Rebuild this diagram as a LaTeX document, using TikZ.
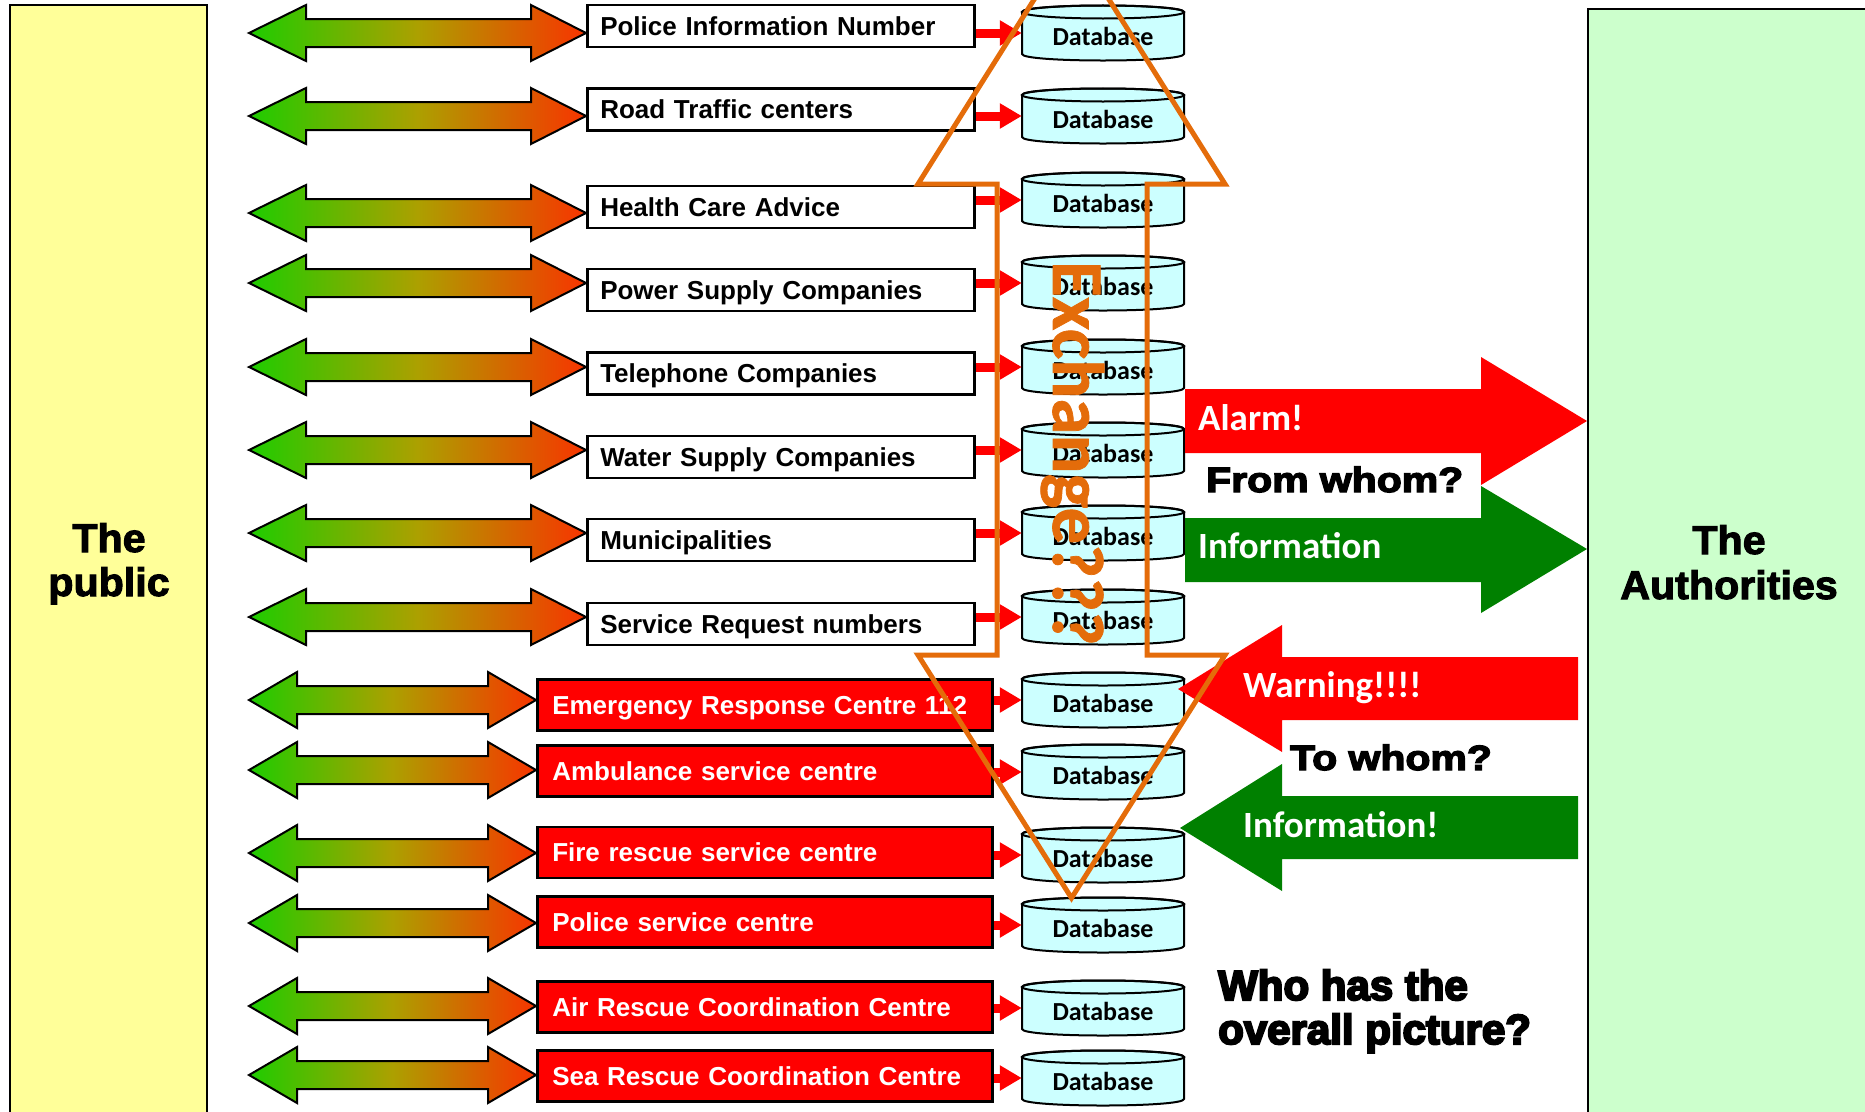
\documentclass[tikz,border=0pt]{standalone}
\usepackage{fontspec}
\setmainfont{Liberation Sans}
\newfontfamily\calfont{Carlito}
\newfontfamily\heavyfont{Liberation Sans}[FakeBold=4,FakeStretch=1.17]
\newfontfamily\pubfont{Liberation Sans}[FakeBold=2.5,FakeStretch=1.03]
\newfontfamily\condfont{Liberation Sans}[FakeBold=5]
\newfontfamily\exfont{Carlito}[FakeBold=1]
\usetikzlibrary{calc,arrows.meta}
\definecolor{pubyellow}{HTML}{FFFF99}
\definecolor{authgreen}{HTML}{CCFFCC}
\definecolor{dbcyan}{HTML}{CCFFFF}
\definecolor{exorange}{HTML}{E46C0A}
\definecolor{infogreen}{HTML}{008000}
\definecolor{gL}{RGB}{30,204,0}
\definecolor{gM}{RGB}{172,160,0}
\definecolor{gR}{RGB}{248,52,0}
\tikzset{
  pubbox/.style={draw=black, line width=2pt, fill=pubyellow},
  authbox/.style={draw=black, line width=2pt, fill=authgreen},
  sidetext/.style={font=\pubfont\bfseries\fontsize{40}{48}\selectfont, anchor=base, inner sep=0pt},
  wbox/.style={draw=black, line width=2.5pt, fill=white, minimum height=42pt, text width=361pt,
    inner xsep=13pt, inner ysep=0pt, align=left, font=\bfseries\fontsize{26}{30}\selectfont,
    text height=21pt, text depth=3pt, anchor=west},
  rbox/.style={wbox, fill=red, text=white, minimum height=51pt, text width=425pt, inner xsep=15pt},
  dbnode/.style={minimum width=162pt, minimum height=55pt, inner sep=0pt,
    font=\calfont\bfseries\fontsize{26}{30}\selectfont, text height=30pt, text depth=6pt},
  dbbody/.style={draw=black, line width=2pt, fill=dbcyan},
  dblstyle/.style={draw=black, line width=2pt, line join=miter, left color=gL, right color=gR, middle color=gM},
  conn/.style={red, line width=9pt, -{Triangle[length=22pt,width=24pt]}},
  bigwhite/.style={font=\calfont\bfseries\fontsize{37}{40}\selectfont, text=white, anchor=base west, inner sep=0pt},
  whom/.style={font=\heavyfont\bfseries\fontsize{35}{40}\selectfont, anchor=base west, inner sep=0pt},
  whostyle/.style={font=\condfont\bfseries\fontsize{42}{50}\selectfont, anchor=base west, inner sep=0pt},
  exline/.style={draw=exorange, line width=5pt, line join=miter},
  extext/.style={font=\exfont\bfseries\fontsize{73}{80}\selectfont, text=exorange, rotate=-90, anchor=base west, inner sep=0pt}
}
\newcommand\dblarrow[4]{%
  \path[dblstyle] (#1) -- ($(#1)+(#3,-28)$) -- ($(#1)+(#3,-14)$) -- ($(#2)+(-#4,-14)$) -- ($(#2)+(-#4,-28)$)
    -- (#2) -- ($(#2)+(-#4,28)$) -- ($(#2)+(-#4,14)$) -- ($(#1)+(#3,14)$) -- ($(#1)+(#3,28)$) -- cycle;}
\newcommand\dbcyl[2]{%
  \coordinate (#1c) at (1103,#2);
  \path[dbbody] ($(#1c)+(-81,-21)$) -- ($(#1c)+(-81,21)$)
    .. controls ($(#1c)+(-81,29.67)$) and ($(#1c)+(81,29.67)$) .. ($(#1c)+(81,21)$)
    -- ($(#1c)+(81,-21)$)
    .. controls ($(#1c)+(81,-29.67)$) and ($(#1c)+(-81,-29.67)$) .. cycle;
  \draw[line width=2pt] ($(#1c)+(0,-21)$) ellipse [x radius=81, y radius=6.5];
  \node[dbnode] (#1) at (#1c) {Database};}
\begin{document}
\begin{tikzpicture}[x=1pt,y=-1pt]
\useasboundingbox (0,0) rectangle (1865,1111);
\clip (0,0) rectangle (1865,1111);
% side panels
\path[pubbox] (10,5) rectangle (207,1125);
\path[authbox] (1588,9) rectangle (1880,1125);
\node[sidetext] (pub1) at (109,552) {The};
\node[sidetext] (pub2) at (109,596) {public};
\node[sidetext] (auth1) at (1729,554) {The};
\node[sidetext] (auth2) at (1729,599) {Authorities};
% white boxes
\node[wbox] (w1) at (586,26) {Police Information Number};
\node[wbox] (w2) at (586,109.5) {Road Traffic centers};
\node[wbox] (w3) at (586,207) {Health Care Advice};
\node[wbox] (w4) at (586,290) {Power Supply Companies};
\node[wbox] (w5) at (586,373.5) {Telephone Companies};
\node[wbox] (w6) at (586,457) {Water Supply Companies};
\node[wbox] (w7) at (586,540) {Municipalities};
\node[wbox] (w8) at (586,624) {Service Request numbers};
% red boxes
\node[rbox] (r1) at (536,705) {Emergency Response Centre 112};
\node[rbox] (r2) at (536,771) {Ambulance service centre};
\node[rbox] (r3) at (536,852.5) {Fire rescue service centre};
\node[rbox] (r4) at (536,922) {Police service centre};
\node[rbox] (r5) at (536,1007) {Air Rescue Coordination Centre};
\node[rbox] (r6) at (536,1076) {Sea Rescue Coordination Centre};
% double arrows
\foreach \n/\yy/\b in {1/33/w1,2/116/w2,3/213/w3,4/283/w4,5/367/w5,6/450/w6,7/533/w7,8/617/w8}{
  \coordinate (L\n) at (249,\yy);
  \coordinate (R\n) at (\b.west |- L\n);
  \dblarrow{L\n}{R\n}{57}{55}
}
\foreach \n/\yy/\b in {9/700/r1,10/770/r2,11/853/r3,12/923/r4,13/1006/r5,14/1075/r6}{
  \coordinate (L\n) at (249,\yy);
  \coordinate (R\n) at (\b.west |- L\n);
  \dblarrow{L\n}{R\n}{48}{48}
}
% databases
\dbcyl{db1}{33}
\dbcyl{db2}{116}
\dbcyl{db3}{200}
\dbcyl{db4}{283}
\dbcyl{db5}{367}
\dbcyl{db6}{450}
\dbcyl{db7}{533}
\dbcyl{db8}{617}
\dbcyl{db9}{700}
\dbcyl{db10}{772}
\dbcyl{db11}{855}
\dbcyl{db12}{925}
\dbcyl{db13}{1008}
\dbcyl{db14}{1078}
% connectors box -> database
\foreach \b/\d in {w1/db1,w2/db2,w3/db3,w4/db4,w5/db5,w6/db6,w7/db7,w8/db8,r1/db9,r2/db10,r3/db11,r4/db12,r5/db13,r6/db14}{
  \draw[conn] (\b.east |- \d) -- (\d.west);
}
% right-hand arrows
\fill[red] (1185,389) -- (1481,389) -- (1481,357) -- (1587,421) -- (1481,485) -- (1481,453) -- (1185,453) -- cycle;
\fill[infogreen] (1185,518) -- (1481,518) -- (1481,486) -- (1587,549) -- (1481,613) -- (1481,582) -- (1185,582) -- cycle;
\fill[red] (1578,657) -- (1282,657) -- (1282,625) -- (1178,689) -- (1282,752) -- (1282,720) -- (1578,720) -- cycle;
\fill[infogreen] (1578,796) -- (1282,796) -- (1282,764) -- (1180,828) -- (1282,891) -- (1282,859) -- (1578,859) -- cycle;
\node[bigwhite] (alarm) at (1198,430) {Alarm!};
\node[whom] (fromwhom) at (1206,492) {From whom?};
\node[bigwhite] (info1) at (1198,558) {Information};
\node[bigwhite] (warn) at (1243,697) {Warning!!!!};
\node[whom] (towhom) at (1290,770) {To whom?};
\node[bigwhite] (info2) at (1243,837) {Information!};
\node[whostyle] (who1) at (1218,1000) {Who has the};
\node[whostyle] (who2) at (1218,1044) {overall picture?};
% exchange arrow
\path[exline] (1071.5,-60) -- (1225,184) -- (1147,184) -- (1147,655) -- (1225,655) -- (1071.5,898)
  -- (918,655) -- (997,655) -- (997,184) -- (918,184) -- cycle;
\node[extext] (exch) at (1053,261) {Exchange???};
\end{tikzpicture}
\end{document}
